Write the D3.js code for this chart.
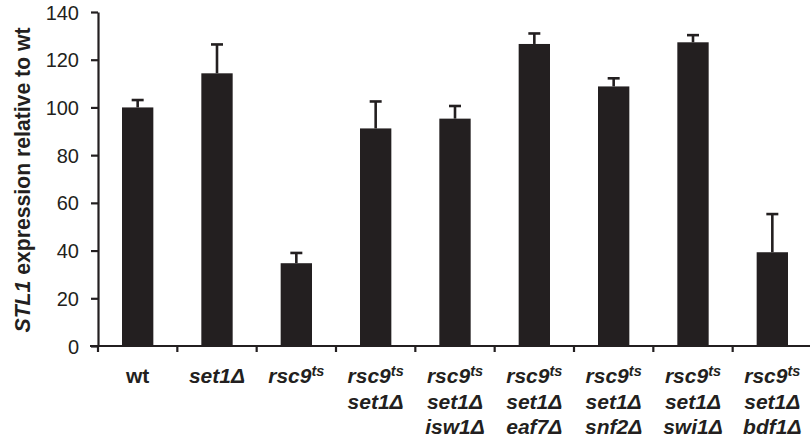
<!DOCTYPE html>
<html>
<head>
<meta charset="utf-8">
<script src="https://cdn.jsdelivr.net/npm/d3@7/dist/d3.min.js"></script>
<style>
  html, body { margin: 0; padding: 0; background: #fff; }
  svg { display: block; }
  text { font-family: "Liberation Sans", Arial, Helvetica, sans-serif; fill: #231f20; }
</style>
</head>
<body>
<svg id="chart" width="810" height="439"></svg>
<script>
// ---- data ----
const categories = ["wt", "set1", "rsc9", "rsc9_set1", "rsc9_set1_isw1", "rsc9_set1_eaf7", "rsc9_set1_snf2", "rsc9_set1_swi1", "rsc9_set1_bdf1"];
const categoryLabels = [
  ["wt"],
  ["set1Δ"],
  ["rsc9^ts"],
  ["rsc9^ts", "set1Δ"],
  ["rsc9^ts", "set1Δ", "isw1Δ"],
  ["rsc9^ts", "set1Δ", "eaf7Δ"],
  ["rsc9^ts", "set1Δ", "snf2Δ"],
  ["rsc9^ts", "set1Δ", "swi1Δ"],
  ["rsc9^ts", "set1Δ", "bdf1Δ"]
];
const values = [100, 114.3, 34.7, 91.2, 95.3, 126.6, 108.8, 127.3, 39.3];
const errors = [3.1, 12.1, 4.3, 11.3, 5.3, 4.4, 3.4, 3.0, 16.0];
const yTicks = [0, 20, 40, 60, 80, 100, 120, 140];

// ---- layout ----
const color = "#231f20";
const svg = d3.select("#chart");
const x0 = 98, x1 = 812, yTop = 12, yBottom = 346;

const x = d3.scaleBand().domain(categories).range([x0, x1]).padding(0);
const y = d3.scaleLinear().domain([0, 140]).range([yBottom, yTop]);
const barW = x.bandwidth() * 0.395;

// bars
svg.append("g").selectAll("rect").data(categories).join("rect")
  .attr("x", (d) => x(d) + x.bandwidth() / 2 - barW / 2)
  .attr("width", barW)
  .attr("y", (d, i) => y(values[i]))
  .attr("height", (d, i) => y(0) - y(values[i]))
  .attr("fill", color);

// error bars (upper only)
const eb = svg.append("g").attr("stroke", color).attr("stroke-width", 2.6);
categories.forEach((c, i) => {
  const cx = x(c) + x.bandwidth() / 2;
  eb.append("line").attr("x1", cx).attr("x2", cx)
    .attr("y1", y(values[i])).attr("y2", y(values[i] + errors[i]));
  eb.append("line").attr("x1", cx - 6).attr("x2", cx + 6)
    .attr("y1", y(values[i] + errors[i])).attr("y2", y(values[i] + errors[i]));
});

// y axis
const yAxis = d3.axisLeft(y).tickValues(yTicks).tickSize(7).tickSizeOuter(0).tickPadding(12);
const gy = svg.append("g").attr("transform", `translate(${x0},0)`).call(yAxis);
gy.attr("font-size", null).attr("font-family", null);
gy.select(".domain").attr("stroke", color).attr("stroke-width", 2.2);
gy.selectAll(".tick line").attr("stroke", color).attr("stroke-width", 2.2);
gy.selectAll(".tick text").style("font-size", "20px").attr("fill", color).attr("dy", "0.35em");

// x axis
const gx = svg.append("g").attr("transform", `translate(0,${yBottom})`);
gx.append("line").attr("x1", x0 - 8).attr("x2", x1).attr("y1", 0).attr("y2", 0)
  .attr("stroke", color).attr("stroke-width", 2.2);
gx.selectAll("line.tk").data(categories).join("line").attr("class", "tk")
  .attr("x1", (d) => x(d)).attr("x2", (d) => x(d))
  .attr("y1", 0).attr("y2", 6)
  .attr("stroke", color).attr("stroke-width", 2.2);

// x labels
const lineY = [383, 408.5, 434];
categories.forEach((c, i) => {
  const cx = x(c) + x.bandwidth() / 2;
  categoryLabels[i].forEach((ln, j) => {
    const t = svg.append("text")
      .attr("x", cx).attr("y", lineY[j])
      .attr("text-anchor", "middle")
      .style("font-size", "21px")
      .attr("font-weight", "bold")
      .attr("font-style", ln === "wt" ? "normal" : "italic");
    const parts = ln.split("^");
    t.append("tspan").text(parts[0]);
    if (parts[1]) {
      t.append("tspan").attr("dy", -7).style("font-size", "14.5px").text(parts[1]);
    }
  });
});

// y axis title
const title = svg.append("text")
  .attr("transform", `translate(29.5,180) rotate(-90)`)
  .attr("text-anchor", "middle")
  .style("font-size", "21.2px")
  .attr("font-weight", "bold");
title.append("tspan").attr("font-style", "italic").text("STL1");
title.append("tspan").text(" expression relative to wt");
</script>
</body>
</html>
